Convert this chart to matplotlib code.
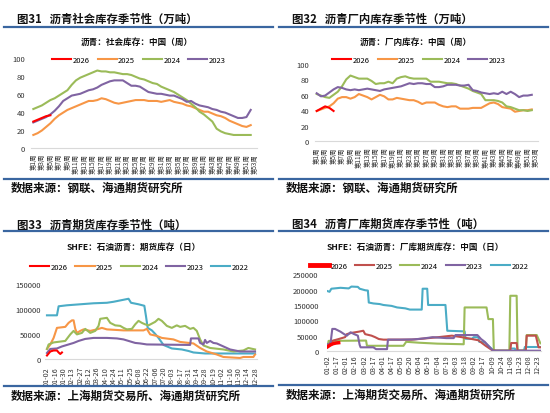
import matplotlib
matplotlib.use('Agg')
import matplotlib.pyplot as plt
from matplotlib.lines import Line2D

plt.rcParams['font.family'] = ['Noto Sans CJK SC', 'DejaVu Sans']

# --- colours ---
C26 = '#FF0000'
C25 = '#F79646'
C25B = '#C0504D'
C24 = '#9BBB59'
C23 = '#8064A2'
C22 = '#4BACC6'
NAVY = '#3A66A0'

# --- 图31 社会库存 (万吨), weekly ---
soc_2026 = [29, 31, 33, 35, 36]
soc_2025 = [14, 16, 19, 23, 27, 32, 36, 39, 42, 44, 46, 48, 50, 52, 52, 53, 55, 54, 52, 50,
            49, 50, 51, 52, 53, 53, 53, 52, 52, 52, 51, 52, 53, 51, 50, 49, 47, 46, 44, 42,
            40, 40, 38, 36, 35, 33, 30, 28, 26, 24, 23, 25]
soc_2024 = [43, 45, 47, 50, 53, 55, 58, 61, 64, 70, 75, 78, 80, 82, 84, 86, 85, 85, 84, 84,
            83, 82, 82, 81, 79, 77, 76, 74, 72, 71, 68, 66, 64, 62, 59, 56, 53, 49, 45, 40,
            37, 33, 29, 21, 18, 16, 15, 14, 14, 14, 14, 14]
soc_2023 = [28, 30, 32, 34, 37, 41, 46, 52, 55, 58, 59, 60, 62, 64, 65, 67, 70, 72, 74, 75,
            75, 75, 72, 69, 69, 68, 65, 62, 61, 60, 60, 59, 58, 58, 56, 54, 51, 52, 49, 47,
            46, 45, 43, 42, 40, 39, 37, 35, 33, 33, 34, 42]

# --- 图32 厂内库存 (万吨), weekly ---
fac_2026 = [39, 42, 45, 43, 39]
fac_2025 = [39, 41, 43, 45, 49, 55, 57, 57, 55, 57, 61, 59, 57, 54, 57, 60, 58, 54, 54, 56,
            55, 54, 53, 53, 51, 48, 50, 50, 50, 47, 45, 44, 45, 45, 42, 42, 42, 43, 43, 43,
            46, 49, 50, 48, 44, 43, 42, 38, 39, 40, 40, 41]
fac_2024 = [61, 59, 57, 56, 60, 64, 71, 80, 85, 83, 81, 81, 81, 78, 74, 75, 75, 77, 75, 81,
            83, 84, 82, 81, 81, 81, 81, 77, 77, 77, 76, 75, 75, 74, 72, 70, 68, 65, 63, 61,
            53, 53, 53, 52, 50, 45, 44, 42, 40, 40, 39, 40]
fac_2023 = [62, 58, 59, 63, 67, 70, 69, 67, 66, 67, 66, 67, 68, 67, 66, 65, 67, 68, 69, 70,
            71, 73, 75, 74, 75, 75, 74, 74, 70, 70, 71, 73, 73, 73, 72, 72, 73, 66, 65, 63,
            62, 61, 62, 61, 64, 61, 64, 61, 57, 59, 59, 60]

# --- 图33 期货库存 (吨), trading-day index ---
fut_d26 = [0, 2, 4, 8, 12, 14, 16, 18]
fut_v26 = [7000, 11000, 15000, 17000, 17000, 13000, 10000, 13000]
fut_d25 = [0, 4, 8, 12, 22, 26, 30, 32, 34, 36, 40, 44, 52, 60, 66, 72, 92, 116, 120, 124,
           132, 138, 152, 160, 176, 184, 192, 204, 212, 232, 236, 248, 250]
fut_v25 = [20000, 29000, 42000, 62000, 64000, 72000, 77000, 77000, 60000, 52000, 56000, 59000,
           56000, 59000, 62000, 59000, 57000, 57000, 60000, 49000, 46000, 42000, 39000, 34000,
           31000, 22000, 15000, 9000, 4000, 2000, 4000, 4000, 9000]
fut_d24 = [0, 2, 8, 22, 28, 32, 36, 42, 46, 52, 58, 62, 64, 72, 76, 82, 88, 92, 96, 102,
           106, 110, 114, 118, 122, 130, 134, 138, 144, 150, 156, 160, 166, 172, 176, 180, 184,
           188, 196, 212, 224, 236, 242, 250]
fut_v24 = [20000, 29000, 33000, 36000, 49000, 56000, 49000, 52000, 60000, 52000, 56000, 66000,
           80000, 82000, 72000, 67000, 66000, 62000, 59000, 60000, 69000, 76000, 72000, 69000,
           67000, 74000, 80000, 76000, 66000, 62000, 67000, 64000, 66000, 60000, 62000, 56000,
           39000, 27000, 22000, 19000, 15000, 17000, 22000, 19000]
fut_d23 = [0, 4, 12, 18, 26, 32, 38, 46, 56, 72, 84, 92, 98, 106, 112, 120, 172, 173, 182,
           184, 188, 190, 192, 196, 200, 204, 212, 220, 232, 250]
fut_v23 = [12000, 20000, 21000, 25000, 29000, 32000, 36000, 40000, 42000, 42000, 41000, 39000,
           36000, 32000, 31000, 29000, 28000, 41000, 41000, 32000, 29000, 38000, 32000, 36000,
           32000, 31000, 25000, 19000, 15000, 15000]
fut_d22 = [0, 12, 14, 24, 40, 56, 72, 80, 92, 98, 101, 110, 117, 119, 121, 126, 130, 134,
           140, 150, 162, 170, 176, 190, 250]
fut_v22 = [87000, 87000, 105000, 107000, 109000, 111000, 112000, 114000, 118000, 120000, 112000,
           109000, 106000, 85000, 62000, 57000, 50000, 42000, 28000, 21000, 19000, 16000, 13000,
           11000, 11000]
fut_ticks = ['01-02', '01-16', '01-30', '02-13', '02-27', '03-12', '03-26', '04-10', '04-24',
             '05-11', '05-25', '06-08', '06-22', '07-06', '07-20', '08-03', '08-17', '08-31',
             '09-14', '09-28', '10-19', '11-02', '11-16', '11-30', '12-14', '12-28']

# --- 图34 厂库期货库存 (吨), trading-day index ---
wh_d26 = [0, 3, 6, 9, 12]
wh_v26 = [14000, 20000, 24000, 26000, 27000]
wh_d25 = [0, 3, 6, 12, 19, 21, 26, 34, 39, 41, 48, 52, 56, 61, 92, 107, 121, 136, 147, 158,
          165, 173, 180, 184, 200, 201, 207, 208, 217, 218, 228, 231, 234]
wh_v25 = [15000, 28000, 34000, 39000, 45000, 55000, 59000, 63000, 66000, 55000, 50000, 45000,
          39000, 37000, 37000, 41000, 45000, 50000, 45000, 39000, 35000, 17000, 3000, 1000,
          1000, 26000, 26000, 1000, 1000, 50000, 50000, 12000, 12000]
wh_d24 = [0, 1, 42, 43, 83, 86, 100, 120, 149, 150, 174, 176, 181, 182, 199, 200, 207, 208,
          217, 218, 229, 233]
wh_v24 = [18000, 33000, 34000, 17000, 17000, 30000, 27000, 24000, 22000, 142000, 142000,
          104000, 104000, 1000, 1000, 180000, 180000, 1000, 1000, 52000, 52000, 25000]
wh_d23 = [0, 3, 5, 8, 14, 18, 21, 25, 29, 33, 35, 36, 50, 53, 65, 66, 80, 95, 105, 115, 130,
          138, 140, 164, 168, 172, 176, 181, 234]
wh_v23 = [22000, 22000, 72000, 72000, 63000, 55000, 50000, 61000, 55000, 50000, 20000, 12000,
          12000, 6000, 6000, 37000, 37000, 38000, 41000, 45000, 42000, 42000, 52000, 52000,
          39000, 30000, 17000, 1000, 1000]
wh_d22 = [0, 2, 4, 14, 23, 26, 33, 35, 41, 44, 45, 50, 57, 61, 70, 76, 85, 90, 103, 104, 109,
          110, 129, 131, 150, 151, 158, 160, 165, 166, 172, 176, 180, 184, 199, 200, 205, 206,
          215, 216, 234]
wh_v22 = [195000, 193000, 203000, 206000, 204000, 210000, 209000, 203000, 198000, 197000,
          158000, 155000, 153000, 150000, 147000, 142000, 139000, 135000, 135000, 203000,
          203000, 150000, 150000, 66000, 64000, 40000, 40000, 45000, 45000, 30000, 28000, 17000,
          6000, 1000, 1000, 8000, 8000, 1000, 1000, 13000, 13000]
wh_ticks = ['01-02', '01-17', '02-01', '02-16', '03-02', '03-17', '04-01', '04-17', '05-05',
            '05-20', '06-04', '06-19', '07-04', '07-19', '08-03', '08-18', '09-02', '09-17',
            '10-09', '10-24', '11-08', '11-23', '12-08', '12-23']

W, H = 550, 414
fig = plt.figure(figsize=(W / 100, H / 100), dpi=100)
fig.patch.set_facecolor('white')


def add_ax(l, t, r, b):
    return fig.add_axes([l / W, 1 - b / H, (r - l) / W, (b - t) / H])


def hline(x0, x1, y):
    fig.add_artist(Line2D([x0 / W, x1 / W], [1 - y / H, 1 - y / H], color=NAVY, lw=1.6))


def ftext(x, y, s, size, ha='left'):
    fig.text(x / W, 1 - y / H, s, fontsize=size, fontweight='bold', ha=ha, va='center',
             color='#111111')


def header(x0, title, sub, ysub, ytitle, yline, ybot, ysrc, src, subx):
    ftext(x0 + 17, ytitle, title, 8.2)
    hline(x0 + 4, x0 + 273, yline)
    ftext(subx, ysub, sub, 6.2, ha='center')
    hline(x0 + 4, x0 + 273, ybot)
    ftext(x0 + 11, ysrc, src, 8.3)


def style(ax, pad_y, pad_x):
    for s in ['top', 'right', 'left']:
        ax.spines[s].set_visible(False)
    ax.spines['bottom'].set_color('#D9D9D9')
    ax.spines['bottom'].set_linewidth(0.8)
    ax.tick_params(axis='both', length=0, colors='#333333')
    ax.tick_params(axis='y', labelsize=5.5, pad=pad_y)
    ax.tick_params(axis='x', labelsize=5.2, pad=pad_x, labelrotation=90)
    ax.set_facecolor('none')


def legend(ax, items, xc, yc):
    handles = [Line2D([], [], color=c, lw=lw) for _, c, lw in items]
    labels = [n for n, _, _ in items]
    ax.legend(handles, labels, loc='center', bbox_to_anchor=(xc / W, 1 - yc / H),
              bbox_transform=fig.transFigure, ncol=len(items), frameon=False, fontsize=5.5,
              handlelength=2.5, handletextpad=0.2, columnspacing=1.0, borderpad=0)


weeks_ticks = list(range(1, 54, 2))
week_labels = [f'第{w}周' for w in weeks_ticks]

# ---------- 图31 ----------
header(0, '图31   沥青社会库存季节性（万吨）', '沥青：社会库存：中国（周）', 42, 19, 28, 180, 188,
       '数据来源：钢联、海通期货研究所', 137)
ax1 = add_ax(31.2, 59, 257.1, 148.5)
ax1.plot(range(1, len(soc_2025) + 1), soc_2025, color=C25, lw=1.5)
ax1.plot(range(1, len(soc_2024) + 1), soc_2024, color=C24, lw=1.5)
ax1.plot(range(1, len(soc_2023) + 1), soc_2023, color=C23, lw=1.5)
ax1.plot(range(1, len(soc_2026) + 1), soc_2026, color=C26, lw=1.5)
ax1.set_xlim(0.5, 53.5)
ax1.set_ylim(0, 100)
ax1.set_yticks([0, 20, 40, 60, 80, 100])
ax1.set_xticks(weeks_ticks)
ax1.set_xticklabels(week_labels)
style(ax1, 4.5, 4)
ax1.tick_params(axis='x', labelsize=4.6)
legend(ax1, [('2026', C26, 1.5), ('2025', C25, 1.5), ('2024', C24, 1.5), ('2023', C23, 1.5)],
       139, 61)

# ---------- 图32 ----------
header(275, '图32   沥青厂内库存季节性（万吨）', '沥青：厂内库存：中国（周）', 42, 19, 28, 180, 188,
       '数据来源：钢联、海通期货研究所', 416)
ax2 = add_ax(314.6, 65, 538.1, 142)
ax2.plot(range(1, len(fac_2025) + 1), fac_2025, color=C25, lw=1.5)
ax2.plot(range(1, len(fac_2024) + 1), fac_2024, color=C24, lw=1.5)
ax2.plot(range(1, len(fac_2023) + 1), fac_2023, color=C23, lw=1.5)
ax2.plot(range(1, len(fac_2026) + 1), fac_2026, color=C26, lw=1.5)
ax2.set_xlim(0.5, 53.5)
ax2.set_ylim(0, 100)
ax2.set_yticks([0, 20, 40, 60, 80, 100])
ax2.set_xticks(weeks_ticks)
ax2.set_xticklabels(week_labels)
style(ax2, 4, 4)
ax2.tick_params(axis='x', labelsize=4.6)
legend(ax2, [('2026', C26, 1.5), ('2025', C25, 1.5), ('2024', C24, 1.5), ('2023', C23, 1.5)],
       419, 61)

# ---------- 图33 ----------
header(0, '图33   沥青期货库存季节性（吨）', 'SHFE：石油沥青：期货库存（日）', 247, 225, 231.5, 387, 396,
       '数据来源：上海期货交易所、海通期货研究所', 134)
ax3 = add_ax(45.3, 284.7, 256.7, 360)
ax3.plot(fut_d22, fut_v22, color=C22, lw=1.5)
ax3.plot(fut_d25, fut_v25, color=C25, lw=1.5)
ax3.plot(fut_d24, fut_v24, color=C24, lw=1.5)
ax3.plot(fut_d23, fut_v23, color=C23, lw=1.5)
ax3.plot(fut_d26, fut_v26, color=C26, lw=1.5)
ax3.set_xlim(-2, 252)
ax3.set_ylim(0, 150000)
ax3.set_yticks([0, 50000, 100000, 150000])
ax3.set_xticks(range(0, 10 * len(fut_ticks), 10))
ax3.set_xticklabels(fut_ticks)
style(ax3, 3, 5)
legend(ax3, [('2026', C26, 1.5), ('2025', C25, 1.5), ('2024', C24, 1.5), ('2023', C23, 1.5),
             ('2022', C22, 1.5)], 139.5, 268)

# ---------- 图34 ----------
header(275, '图34   沥青厂库期货库存季节性（吨）', 'SHFE：石油沥青：厂库期货库存：中国（日）', 247, 224, 232,
       386, 395, '数据来源：上海期货交易所、海通期货研究所', 415)
ax4 = add_ax(326.8, 275.3, 541.3, 352)
ax4.plot(wh_d22, wh_v22, color=C22, lw=1.5)
ax4.plot(wh_d24, wh_v24, color=C24, lw=1.5)
ax4.plot(wh_d25, wh_v25, color=C25B, lw=1.5)
ax4.plot(wh_d23, wh_v23, color=C23, lw=1.5)
ax4.plot(wh_d26, wh_v26, color=C26, lw=2.5)
ax4.set_xlim(-1, 234)
ax4.set_ylim(0, 250000)
ax4.set_yticks(range(0, 250001, 50000))
ax4.set_xticks(range(0, 10 * len(wh_ticks), 10))
ax4.set_xticklabels(wh_ticks)
style(ax4, 6, 2.5)
legend(ax4, [('2026', C26, 3.5), ('2025', C25B, 1.5), ('2024', C24, 1.5), ('2023', C23, 1.5),
             ('2022', C22, 1.5)], 419, 267)

fig.savefig('out.png', dpi=100, facecolor='white')
